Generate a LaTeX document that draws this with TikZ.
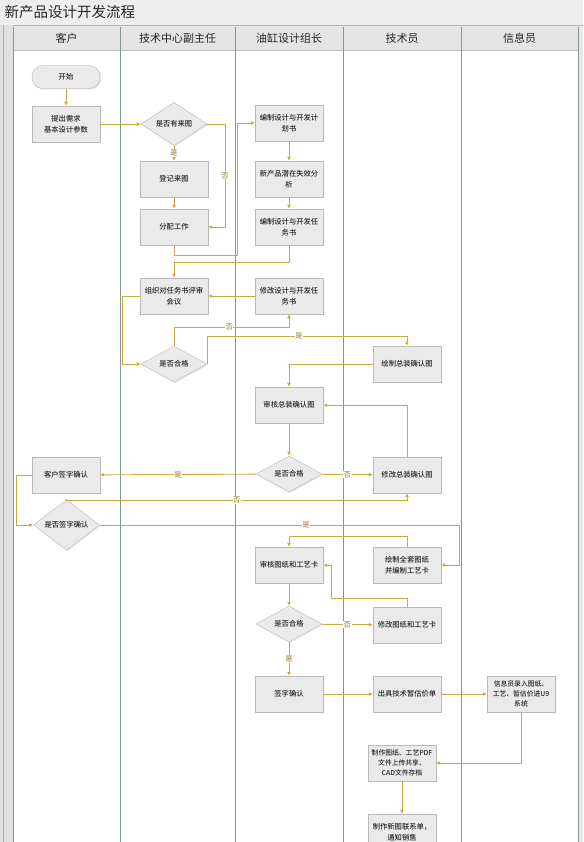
\documentclass[tikz,border=0pt]{standalone}
\usepackage{fontspec}
\setmainfont{Noto Sans CJK SC}
\newfontfamily\cjkmed{Noto Sans CJK SC Medium}
\usetikzlibrary{arrows.meta,shapes.geometric,shadows}
\definecolor{flowc}{RGB}{204,168,64}
\definecolor{labc}{RGB}{150,120,40}
\definecolor{boxfill}{RGB}{234,234,234}
\definecolor{boxline}{RGB}{185,185,185}
\definecolor{lanec}{RGB}{130,152,150}
\definecolor{bgc}{RGB}{232,232,232}
\definecolor{headc}{RGB}{228,228,228}
\definecolor{titlec}{RGB}{238,238,238}
\tikzset{
  box/.style={draw=boxline, fill=boxfill, minimum width=68pt, minimum height=36pt,
    align=center, inner sep=1pt, font=\cjkmed\fontsize{7.3}{11}\selectfont, text=black!85,
    drop shadow={shadow xshift=1pt, shadow yshift=-1pt, opacity=0.25}},
  term/.style={box, rounded corners=11pt, minimum height=23pt},
  dia/.style={diamond, draw=boxline, fill=boxfill, minimum width=66pt, minimum height=34pt,
    inner sep=0pt, font=\cjkmed\fontsize{7.3}{11}\selectfont, text=black!85,
    drop shadow={shadow xshift=1pt, shadow yshift=-1pt, opacity=0.2}},
  flow/.style={draw=flowc, line width=0.9pt, -{Latex[length=4pt,width=4pt]}},
  lab/.style={fill=white, text=labc, font=\fontsize{7.3}{8}\selectfont, inner sep=0.6pt},
  head/.style={font=\fontsize{11}{12}\selectfont, text=black!85}
}
\begin{document}
\begin{tikzpicture}[x=1pt,y=-1pt]
\useasboundingbox (0,0) rectangle (583,842);
% background and frame
\fill[bgc] (0,0) rectangle (583,842);
\fill[titlec] (0,0) rectangle (583,25);
\draw[black!30] (0,25) -- (583,25);
\node[anchor=west, font=\fontsize{14.5}{15}\selectfont, text=black!85] (title) at (1,12.5) {新产品设计开发流程};
\fill[black!12] (0,25) rectangle (13,842);
\draw[black!30] (3,25) -- (3,842);
\fill[white] (13,50) rectangle (578,842);
\fill[headc] (13,27) rectangle (578,50);
\draw[black!25] (13,50) -- (578,50);
\foreach \x in {13,120,235,343,461,578} \draw[lanec, line width=0.9pt] (\x,27) -- (\x,842);
\node[head] (h1) at (66.5,38.5) {客户};
\node[head] (h2) at (177.5,38.5) {技术中心副主任};
\node[head] (h3) at (289,38.5) {油缸设计组长};
\node[head] (h4) at (402,38.5) {技术员};
\node[head] (h5) at (519.5,38.5) {信息员};
% nodes
\node[term] (start) at (66,77) {开始};
\node[box] (req) at (66,124) {提出需求\\基本设计参数};
\node[dia] (q0) at (174,124) {是否有来图};
\node[box] (reg) at (174,179) {登记来图};
\node[box] (assign) at (174,227) {分配工作};
\node[box] (plan) at (289,123) {编制设计与开发计\\划书};
\node[box] (fmea) at (289,179) {新产品潜在失效分\\析};
\node[box] (task) at (289,227) {编制设计与开发任\\务书};
\node[box] (review) at (174,296) {组织对任务书评审\\会议};
\node[box] (modtask) at (289,296) {修改设计与开发任\\务书};
\node[dia] (q1) at (174,364) {是否合格};
\node[box] (draw1) at (407,364) {绘制总装确认图};
\node[box] (review2) at (289,405) {审核总装确认图};
\node[dia] (q2) at (289,474) {是否合格};
\node[box] (mod2) at (407,475) {修改总装确认图};
\node[box] (sign) at (66,475) {客户签字确认};
\node[dia] (q3) at (66.5,525) {是否签字确认};
\node[box] (check) at (289,565) {审核图纸和工艺卡};
\node[box] (drawall) at (407,565) {绘制全套图纸\\并编制工艺卡};
\node[dia] (q4) at (289,624) {是否合格};
\node[box] (mod3) at (407,625) {修改图纸和工艺卡};
\node[box] (signc) at (289,694) {签字确认};
\node[box] (quote) at (407,694) {出具技术暂估价单};
\node[box, font=\cjkmed\fontsize{6.8}{10}\selectfont] (info) at (521,694) {信息员录入图纸、\\工艺、暂估价进U9\\系统};
\node[box, font=\cjkmed\fontsize{6.8}{10}\selectfont] (pdf) at (402,763) {制作图纸、工艺PDF\\文件上传共享、\\CAD文件存档};
\node[box] (notice) at (402,832) {制作新图联系单，\\通知销售};
% connectors
\draw[flow] (start) -- (req);
\draw[flow] (req) -- (q0);
\draw[flow] (q0) -- node[lab]{是} (reg);
\draw[flow] (q0.east) -- (225,124) -- node[lab]{否} (225,227) -- (assign.east);
\draw[flow] (reg) -- (assign);
\draw[flow] (assign.south) |- (237,255) |- (plan.west);
\draw[flow] (plan) -- (fmea);
\draw[flow] (fmea) -- (task);
\draw[flow] (task.south) |- (174,262) -- (review.north);
\draw[flow] (modtask) -- (review);
\draw[flow] (review.west) -- (122,296) |- (q1.west);
\draw[flow] (q1.north) |- node[lab,pos=0.74]{否} (289,327) -- (modtask.south);
\draw[flow] (q1.east) |- node[lab,pos=0.73]{是} (407,336) -- (draw1.north);
\draw[flow] (draw1.west) -| (review2.north);
\draw[flow] (review2) -- (q2);
\draw[flow] (q2) -- node[lab]{否} (mod2);
\draw[flow] (mod2.north) |- (review2.east);
\draw[flow] (q2) -- node[lab]{是} (sign);
\draw[flow] (sign.west) -- (16,475) |- (q3.west);
\draw[flow] (q3.north) |- node[lab,pos=0.75]{否} (407,500) -- (mod2.south);
\draw[flow] (q3.east) -- node[lab,pos=0.574]{是} (459,525) |- (drawall.east);
\draw[flow] (drawall.north) |- (289,536) -- (check.north);
\draw[flow] (check) -- (q4);
\draw[flow] (q4) -- node[lab]{否} (mod3);
\draw[flow] (mod3.north) |- (331,598) |- (check.east);
\draw[flow] (q4) -- node[lab]{是} (signc);
\draw[flow] (signc) -- (quote);
\draw[flow] (quote) -- (info);
\draw[flow] (info.south) |- (pdf.east);
\draw[flow] (pdf) -- (notice);
\end{tikzpicture}
\end{document}
